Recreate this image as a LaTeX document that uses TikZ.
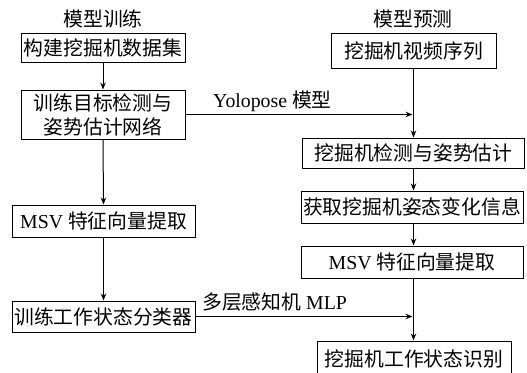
\documentclass[tikz,border=0pt]{standalone}
\usepackage{fontspec}
\setmainfont{Liberation Serif}
\newfontfamily\cjk{Noto Sans CJK SC}
\usetikzlibrary{arrows.meta}
\begin{document}
\begin{tikzpicture}[x=1pt,y=-1pt,
  every node/.style={font=\fontsize{19.8}{24}\selectfont, inner sep=0pt},
  box/.style={draw, line width=1pt, align=center},
  conn/.style={line width=1pt, -{Stealth[length=7pt,width=5.5pt]}},
  plain/.style={line width=1pt}]
\useasboundingbox (0,0) rectangle (527,372);
% titles
\node (tl) at (103,19) {\cjk 模型训练};
\node (tr) at (413,19) {\cjk 模型预测};
% left column
\node[box, minimum width=164pt, minimum height=29pt] (L1) at (103,47.5) {\cjk 构建挖掘机数据集};
\node[box, minimum width=164pt, minimum height=49pt] (L2) at (103,114.5) {\cjk 训练目标检测与\\\cjk 姿势估计网络};
\node[box, minimum width=183pt, minimum height=32pt] (L3) at (103.5,221) {MSV {\cjk 特征向量提取}};
\node[box, minimum width=183pt, minimum height=31pt] (L4) at (103.5,316.5) {\cjk 训练工作状态分类器};
% right column
\node[box, minimum width=165pt, minimum height=35pt] (R1) at (413.5,50.5) {\cjk 挖掘机视频序列};
\node[box, minimum width=222pt, minimum height=30pt] (R2) at (413.5,153) {\cjk 挖掘机检测与姿势估计};
\node[box, minimum width=222pt, minimum height=32pt] (R3) at (412,207) {\cjk 获取挖掘机姿态变化信息};
\node[box, minimum width=222pt, minimum height=32pt] (R4) at (412,262) {MSV {\cjk 特征向量提取}};
\node[box, minimum width=194pt, minimum height=36pt] (R5) at (414,359) {\cjk 挖掘机工作状态识别};
% left arrows
\draw[conn] (L1.south) -- (L2.north);
\draw[conn] (L2.south) -- (L3.north);
\draw[conn] (L3.south) -- (L4.north);
% right arrows
\draw[conn] (R1.south) -- (R1.south |- R2.north);
\draw[conn] (R2.south -| R1.south) -- (R1.south |- R3.north);
\draw[conn] (R3.south -| R1.south) -- (R1.south |- R4.north);
\draw[conn] (R4.south -| R1.south) -- (R1.south |- R5.north);
% horizontal connectors
\draw[conn, shorten >=1pt] (L2.east) -- (L2.east -| R1.south);
\draw[conn, shorten >=1pt] (L4.east) -- (L4.east -| R1.south);
% labels
\node[anchor=base west] (ly) at (213,107.5) {Yolopose {\cjk 模型}};
\node[anchor=base west] (lm) at (202,309.5) {{\cjk 多层感知机} MLP};
\end{tikzpicture}
\end{document}
